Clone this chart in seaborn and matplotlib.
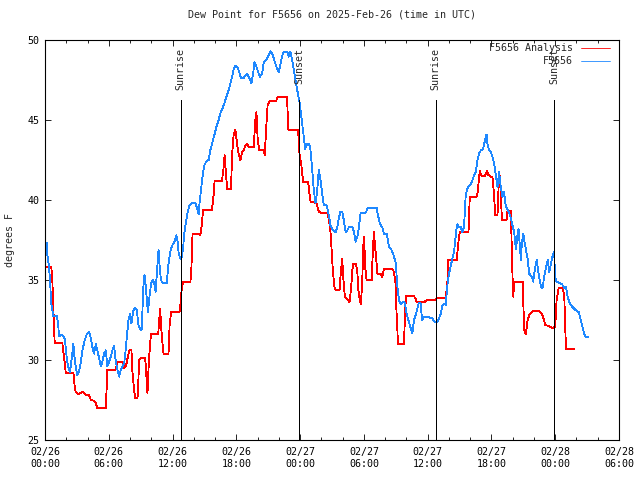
import matplotlib
matplotlib.use("Agg")
import matplotlib.pyplot as plt
import pandas as pd
import seaborn as sns
from matplotlib.lines import Line2D

# ---------------- data (hours since 2025-02-26 00:00 UTC, dew point in F) -------------
hours_analysis = [0.05, 0.59, 0.69, 0.78, 0.91, 1.63, 1.86, 1.95, 2.67, 2.80, 2.89, 3.11, 3.36,
                  3.61, 3.84, 4.15, 4.31, 4.62, 4.78, 4.93, 5.72, 5.87, 6.66, 6.81, 7.29, 7.45,
                  7.61, 7.76, 7.92, 8.13, 8.23, 8.39, 8.48, 8.70, 8.77, 8.86, 8.95, 9.43, 9.64,
                  9.77, 9.96, 10.65, 10.74, 10.84, 10.93, 11.03, 11.15, 11.62, 11.73, 11.88,
                  12.66, 12.72, 12.88, 13.03, 13.67, 13.76, 13.88, 14.51, 14.61, 14.77, 14.86,
                  15.71, 15.86, 15.96, 16.65, 16.80, 16.90, 17.03, 17.13, 17.50, 17.60, 17.75,
                  17.91, 18.07, 18.22, 18.38, 18.54, 18.69, 18.85, 19.01, 19.16, 19.63, 19.79,
                  19.89, 20.01, 20.17, 20.57, 20.67, 20.80, 20.95, 21.21, 21.74, 21.93, 22.78,
                  22.87, 23.81, 23.87, 23.94, 24.13, 24.29, 24.76, 24.88, 24.98, 25.54, 25.76,
                  26.08, 26.55, 26.70, 26.86, 26.93, 27.08, 27.24, 27.33, 27.71, 27.80, 27.96,
                  28.05, 28.21, 28.44, 28.65, 28.81, 28.91, 29.00, 29.25, 29.38, 29.48, 29.60,
                  29.72, 29.85, 29.94, 30.04, 30.09, 30.25, 30.73, 30.82, 30.94, 31.04, 31.17,
                  31.26, 31.57, 31.73, 31.89, 32.68, 32.83, 32.99, 33.05, 33.15, 33.20, 33.77,
                  33.86, 33.96, 34.71, 34.87, 34.97, 35.66, 35.81, 35.98, 36.76, 36.92, 37.70,
                  37.79, 37.86, 37.95, 38.74, 38.86, 39.02, 39.84, 39.96, 40.59, 40.69, 40.90,
                  41.09, 41.38, 41.57, 41.72, 42.10, 42.25, 42.35, 42.57, 42.72, 42.83, 42.98,
                  43.42, 43.51, 43.83, 43.92, 44.04, 44.17, 44.93, 45.00, 45.08, 45.24, 45.40,
                  45.55, 45.87, 46.49, 46.81, 47.06, 47.43, 47.75, 48.00, 48.13, 48.32, 48.70,
                  48.85, 48.94, 49.01, 49.79]
dew_analysis = [35.8, 35.8, 35.0, 33.3, 31.05, 31.05, 29.8, 29.2, 29.2, 28.3, 28.0, 27.85, 27.95,
                28.0, 27.8, 27.8, 27.5, 27.45, 27.3, 27.0, 27.0, 29.4, 29.4, 29.86, 29.86, 29.5,
                29.6, 30.1, 30.6, 30.6, 29.2, 28.1, 27.6, 27.6, 28.5, 30.0, 30.1, 30.1, 27.9,
                29.9, 31.6, 31.6, 32.5, 33.2, 32.0, 31.2, 30.4, 30.4, 32.3, 33.0,
                33.0, 33.3, 34.6, 34.9, 34.85, 35.5, 37.9, 37.85, 37.8, 38.5, 39.4,
                39.4, 40.3, 41.2, 41.2, 42.0, 42.8, 41.56, 40.7, 40.7, 42.8, 44.1,
                44.4, 43.5, 42.9, 42.5, 43.0, 43.1, 43.4, 43.5, 43.3, 43.3, 45.0,
                45.5, 43.75, 43.1, 43.1, 42.8, 44.4, 46.0, 46.2, 46.2, 46.46, 46.46,
                44.4, 44.4, 43.75, 42.9, 42.1, 41.1, 41.1, 40.4, 39.9, 39.8, 39.27,
                39.17, 39.17, 38.85, 38.0, 37.2, 35.6, 34.5, 34.4, 34.4, 35.2, 36.35,
                35.2, 33.96, 33.8, 33.6, 34.6, 35.6, 36.0, 36.0, 35.5, 34.4, 33.8,
                33.5, 35.0, 37.1, 37.7, 36.0, 35.0, 35.0, 36.46, 38.0, 37.2, 36.25,
                35.4, 35.4, 35.2, 35.7, 35.7, 35.5, 34.7, 33.3, 31.9, 31.0, 31.0,
                32.7, 34.0, 34.0, 33.8, 33.6, 33.6, 33.7, 33.75, 33.75, 33.9, 33.9,
                34.5, 34.9, 36.25, 36.25, 37.2, 38.0, 38.0, 40.2, 40.2, 40.4, 41.8,
                41.5, 41.5, 41.8, 41.56, 41.4, 40.3, 39.06, 39.06, 41.6, 41.4, 38.75,
                38.75, 39.3, 39.3, 36.7, 33.96, 34.9, 34.9, 33.5, 31.9, 31.6, 32.5,
                32.8, 33.06, 33.06, 32.8, 32.2, 32.1, 32.0, 32.1, 33.75, 34.5, 34.5,
                34.0, 32.1, 30.67, 30.67]

hours_obs = [0.05, 0.16, 0.22, 0.38, 0.47, 0.59, 0.78, 1.10, 1.23, 1.32, 1.63, 1.86, 2.05, 2.17,
             2.36, 2.57, 2.67, 2.80, 2.89, 3.04, 3.20, 3.36, 3.52, 3.74, 3.93, 4.15, 4.31, 4.46,
             4.62, 4.78, 4.93, 5.09, 5.25, 5.40, 5.56, 5.72, 5.87, 6.03, 6.19, 6.34, 6.50, 6.66,
             6.81, 6.97, 7.13, 7.29, 7.45, 7.54, 7.70, 7.85, 8.01, 8.13, 8.32, 8.48, 8.64, 8.79,
             8.95, 9.11, 9.21, 9.26, 9.36, 9.45, 9.59, 9.68, 9.83, 9.99, 10.15, 10.27, 10.40,
             10.53, 10.68, 10.77, 10.90, 11.09, 11.31, 11.47, 11.56, 11.72, 11.85, 12.00, 12.19,
             12.35, 12.47, 12.56, 12.66, 12.82, 12.98, 13.10, 13.26, 13.41, 13.60, 13.83, 14.14,
             14.30, 14.45, 14.54, 14.67, 14.86, 15.01, 15.17, 15.39, 15.55, 15.71, 15.86, 16.02,
             16.18, 16.33, 16.49, 16.80, 17.13, 17.37, 17.60, 17.75, 17.91, 18.12, 18.31, 18.44,
             18.69, 18.85, 19.01, 19.16, 19.32, 19.42, 19.58, 19.70, 19.86, 20.01, 20.20, 20.42,
             20.58, 20.83, 21.05, 21.21, 21.39, 21.52, 21.68, 21.84, 21.99, 22.15, 22.31, 22.46,
             22.78, 22.93, 23.09, 23.25, 23.47, 23.66, 23.78, 23.97, 24.10, 24.22, 24.35, 24.48,
             24.67, 24.85, 24.98, 25.14, 25.29, 25.45, 25.61, 25.76, 25.92, 26.08, 26.23, 26.48,
             26.70, 26.86, 27.12, 27.33, 27.49, 27.64, 27.80, 27.96, 28.11, 28.28, 28.44, 28.59,
             28.91, 29.06, 29.22, 29.38, 29.53, 29.69, 29.85, 30.16, 30.38, 30.79, 31.20, 31.32,
             31.51, 31.73, 31.89, 32.14, 32.36, 32.58, 32.77, 32.99, 33.15, 33.30, 33.46, 33.62,
             33.84, 34.02, 34.18, 34.40, 34.56, 34.71, 34.87, 35.03, 35.18, 35.34, 35.47, 35.65,
             36.13, 36.45, 36.60, 36.92, 37.07, 37.23, 37.39, 37.54, 37.70, 37.86, 38.01, 38.17,
             38.33, 38.48, 38.58, 38.71, 38.80, 38.95, 39.11, 39.27, 39.42, 39.58, 39.74, 39.90,
             40.06, 40.22, 40.37, 40.53, 40.69, 40.84, 41.00, 41.22, 41.40, 41.54, 41.63, 41.78,
             41.94, 42.10, 42.25, 42.41, 42.57, 42.72, 42.88, 43.04, 43.19, 43.35, 43.51, 43.67,
             43.83, 43.98, 44.14, 44.30, 44.46, 44.55, 44.67, 44.77, 44.86, 44.99, 45.08, 45.24,
             45.40, 45.55, 45.81, 45.93, 46.09, 46.25, 46.37, 46.49, 46.65, 46.81, 46.96, 47.13,
             47.29, 47.44, 47.60, 47.76, 47.91, 47.97, 48.13, 48.38, 48.63, 48.85, 49.01, 49.17,
             49.39, 49.64, 49.95, 50.21, 50.36, 50.52, 50.68, 50.83, 51.06]
dew_obs = [37.3, 37.3, 36.56, 35.8, 35.0, 33.5, 32.75, 32.75, 32.3, 31.5, 31.56, 31.35, 30.1, 29.6,
           29.27, 30.4, 31.0, 30.0, 29.6, 29.06, 29.27, 29.8, 30.6, 31.25, 31.6, 31.77, 31.35, 30.8,
           30.4, 31.0, 30.6, 30.1, 29.6, 29.9, 30.4, 30.6, 29.6, 29.9, 30.2, 30.6, 30.9, 29.9,
           29.4, 28.96, 29.4, 29.6, 29.8, 30.3, 31.45, 32.5, 32.9, 32.3, 33.1, 33.27, 33.1, 32.2,
           31.9, 31.9, 33.96, 34.6, 35.3, 34.8, 33.75, 33.0, 33.96, 34.8, 35.0, 34.8, 34.27,
           35.5, 36.9, 36.0, 35.0, 34.8, 34.8, 34.8, 35.7, 36.46, 36.98, 37.2, 37.4,
           37.8, 37.4, 36.77, 36.46, 36.3, 36.9, 37.9, 38.6, 39.2, 39.7, 39.8, 39.8,
           39.5, 39.1, 39.8, 40.6, 41.7, 42.2, 42.4, 42.5, 43.1, 43.5, 43.85, 44.3,
           44.7, 45.0, 45.4, 45.9, 46.56, 47.1, 47.7, 48.2, 48.4, 48.3, 47.9, 47.6,
           47.6, 47.8, 47.9, 47.7, 47.5, 47.3, 47.9, 48.6, 48.4, 48.1, 47.7, 47.9,
           48.6, 48.75, 49.06, 49.3, 49.1, 48.85, 48.5, 48.2, 48.0, 48.5, 49.0, 49.27,
           49.27, 48.96, 49.27, 48.75, 47.9, 47.1, 46.7, 46.0, 45.3, 44.6, 43.96, 43.2,
           43.5, 43.5, 43.1, 41.9, 40.6, 39.8, 40.6, 41.9, 41.25, 40.4, 39.7, 39.7,
           39.06, 38.4, 38.1, 37.98, 38.3, 38.85, 39.27, 39.27, 38.75, 38.0, 38.1, 38.3,
           38.3, 38.0, 37.4, 37.7, 38.3, 39.2, 39.2, 39.2, 39.5, 39.5, 39.5, 39.06,
           38.5, 38.3, 37.9, 37.9, 37.1, 36.9, 36.6, 36.1, 34.6, 33.75, 33.5, 33.6,
           33.6, 32.9, 32.5, 32.0, 31.67, 32.5, 32.8, 33.2, 33.6, 33.5, 32.5, 32.67,
           32.67, 32.6, 32.4, 32.4, 32.6, 32.9, 33.4, 33.5, 33.45, 34.7, 35.4, 35.9,
           36.35, 36.77, 37.4, 38.2, 38.5, 38.3, 38.3, 38.0, 38.3, 40.3, 40.7, 40.9,
           41.0, 41.25, 41.56, 41.77, 42.5, 42.9, 43.1, 43.2, 43.75, 44.1, 43.5, 43.1,
           43.0, 42.7, 42.3, 41.56, 40.8, 41.77, 40.8, 40.2, 40.5, 39.6, 39.4, 39.2,
           38.85, 38.4, 38.0, 36.9, 37.9, 38.2, 37.1, 36.25, 37.3, 37.9, 37.5, 36.9,
           36.35, 35.4, 35.2, 34.9, 35.7, 36.25, 35.7, 35.2, 34.6, 34.5, 35.2, 35.8,
           36.25, 35.5, 36.0, 36.56, 36.77, 35.2, 34.9, 34.8, 34.75, 34.5, 34.6, 33.96,
           33.5, 33.3, 33.1, 33.0, 32.6, 32.2, 31.77, 31.45, 31.45]

sun_events = ["Sunrise", "Sunset", "Sunrise", "Sunset"]
sun_hours = [12.77, 23.89, 36.76, 47.93]

x_ticks = [0, 6, 12, 18, 24, 30, 36, 42, 48, 54]
x_tick_labels = ["02/26\n00:00", "02/26\n06:00", "02/26\n12:00", "02/26\n18:00",
                 "02/27\n00:00", "02/27\n06:00", "02/27\n12:00", "02/27\n18:00",
                 "02/28\n00:00", "02/28\n06:00"]
y_ticks = [25, 30, 35, 40, 45, 50]
series_names = ["F5656 Analysis", "F5656"]
title = "Dew Point for F5656 on 2025-Feb-26 (time in UTC)"

# ---------------- style ----------------
sns.set_style("ticks")
plt.rcParams['font.family'] = ['DejaVu Sans Mono']
FS = 7.2
RED = "#ff0000"
BLUE = "#1e88ff"
LW = 0.6

fig = plt.figure(figsize=(6.4, 4.8), dpi=100)
ax = fig.add_axes([45 / 640, 40 / 480, 574 / 640, 400 / 480])

df_a = pd.DataFrame({"hours": hours_analysis, "dew": dew_analysis})
df_o = pd.DataFrame({"hours": hours_obs, "dew": dew_obs})
sns.lineplot(data=df_a, x="hours", y="dew", color=RED, lw=LW, estimator=None,
             sort=False, ax=ax, antialiased=False)
sns.lineplot(data=df_o, x="hours", y="dew", color=BLUE, lw=LW, estimator=None,
             sort=False, ax=ax, antialiased=False)

for name, h in zip(sun_events, sun_hours):
    ax.vlines(h, 25, 46.25, color="black", lw=LW, antialiased=False)
    ax.text(h, 49.5, name, rotation=90, ha="center", va="top", fontsize=FS)

ax.set_xlim(0, 54)
ax.set_ylim(25, 50)
ax.set_xticks(x_ticks)
ax.set_xticklabels(x_tick_labels, fontsize=FS)
ax.set_xticks(range(0, 55, 2), minor=True)
ax.set_yticks(y_ticks)
ax.set_yticklabels([str(v) for v in y_ticks], fontsize=FS)
for lab in ax.get_xticklabels():
    lab.set_linespacing(1.3)
ax.tick_params(axis="both", which="both", direction="in", top=True, right=True,
               colors="black", width=LW)
ax.tick_params(axis="x", which="major", length=4.5, pad=5)
ax.tick_params(axis="x", which="minor", length=2.5)
ax.tick_params(axis="y", which="major", length=4, pad=4)
for s in ax.spines.values():
    s.set_visible(True)
    s.set_color("black")
    s.set_linewidth(0.8)

ax.set_xlabel("")
ax.set_ylabel("degrees F", fontsize=FS)
ax.yaxis.set_label_coords(-0.052, 0.5)
ax.set_title(title, fontsize=FS, pad=16)

handles = [Line2D([], [], color=RED, lw=LW), Line2D([], [], color=BLUE, lw=LW)]
ax.legend(handles, series_names, loc="upper right", bbox_to_anchor=(0.984, 0.992),
          frameon=False, markerfirst=False, fontsize=FS, handlelength=2.9,
          handletextpad=0.8, labelspacing=0.3, borderaxespad=0, borderpad=0)

fig.savefig("out.png", dpi=100)
